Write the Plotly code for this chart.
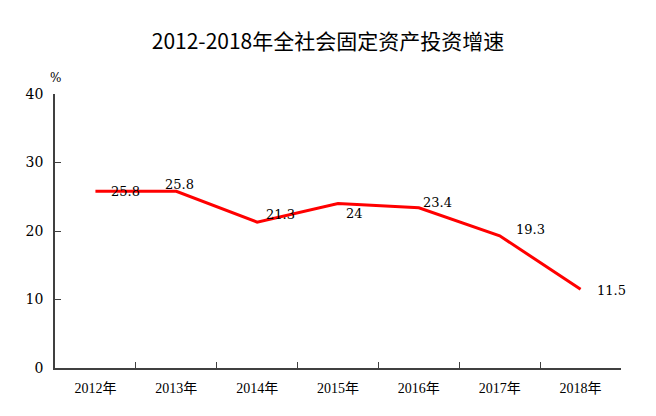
import plotly.graph_objects as go

years = ["2012年", "2013年", "2014年", "2015年", "2016年", "2017年", "2018年"]
growth = [25.8, 25.8, 21.3, 24, 23.4, 19.3, 11.5]
label_text = ["25.8", "25.8", "21.3", "24", "23.4", "19.3", "11.5"]
y_ticks = [0, 10, 20, 30, 40]
title = "2012-2018年全社会固定资产投资增速"
unit = "%"

# label offsets (pixels) relative to each point
offsets = [(30, 0), (3, 7), (23, 8), (16, -10), (19, 5), (31, 6), (31, -1)]

fig = go.Figure()
fig.add_trace(go.Scatter(
    x=years, y=growth, mode="lines",
    line=dict(color="#ff0000", width=3),
    hoverinfo="skip", showlegend=False,
))

annotations = []
for yr, v, t, (dx, dy) in zip(years, growth, label_text, offsets):
    annotations.append(dict(
        x=yr, y=v, text=t, showarrow=False, xref="x", yref="y",
        xshift=dx, yshift=dy,
        font=dict(family="DejaVu Serif", size=13, color="#000000"),
    ))
annotations.append(dict(
    x=0, y=1, xref="paper", yref="paper", text=unit, showarrow=False,
    xshift=-7, yshift=25, font=dict(family="DejaVu Serif", size=12, color="#000000"),
))

fig.update_layout(
    width=656, height=416,
    margin=dict(l=55, r=35, t=94, b=48),
    paper_bgcolor="white", plot_bgcolor="white",
    title=dict(text=title, x=0.5, xanchor="center", y=1 - 42 / 416, yanchor="middle",
               font=dict(family="Noto Sans CJK SC", size=21, color="#000000")),
    xaxis=dict(
        type="category", tickson="boundaries", showline=True, linecolor="#404040",
        linewidth=1.5, ticks="inside", ticklen=6, tickcolor="#404040", showgrid=False,
        range=[-0.5, 6.5], tickfont=dict(family="Liberation Serif, Noto Sans CJK SC", size=14, color="#000000"),
        ticklabelstandoff=6,
    ),
    yaxis=dict(
        range=[0, 40], tickvals=y_ticks, showline=True, linecolor="#404040",
        linewidth=1.5, ticks="inside", ticklen=6, tickcolor="#404040", showgrid=False,
        zeroline=False, ticklabelstandoff=7,
        tickfont=dict(family="DejaVu Serif", size=14, color="#000000"),
    ),
    annotations=annotations,
)

fig.write_html("out.html")
